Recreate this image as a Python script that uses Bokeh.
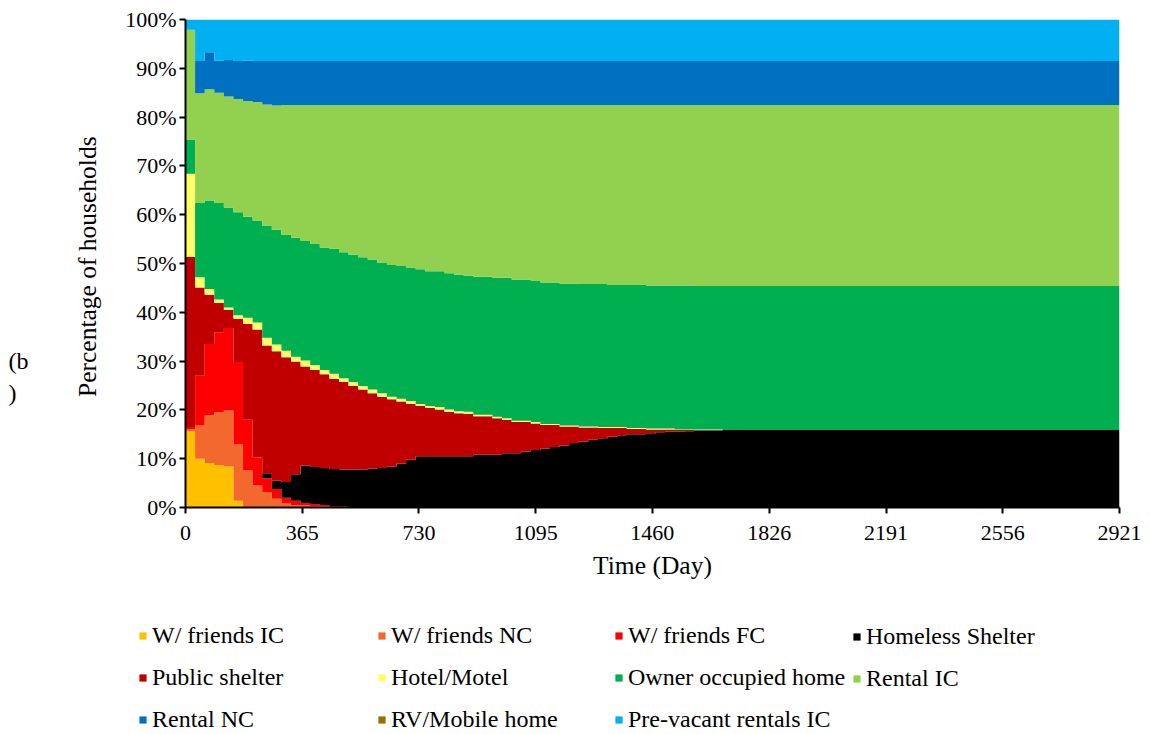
import numpy as np
from bokeh.plotting import figure
from bokeh.layouts import column, row
from bokeh.models import Range1d, FixedTicker, PrintfTickFormatter, Legend, LegendItem, Label
from bokeh.embed import file_html
from bokeh.resources import INLINE

# ---------------- data (percentage of households, one value per 30-day step) ----------------
month_index = list(range(57))
step_days = 30
x_end = 2921
x_ticks = [0, 365, 730, 1095, 1460, 1826, 2191, 2556, 2921]
y_ticks = [0, 10, 20, 30, 40, 50, 60, 70, 80, 90, 100]

friends_ic = [15.6, 10.0, 9.1, 8.7, 8.4, 1.4, 0, 0, 0, 0, 0, 0, 0, 0, 0, 0, 0, 0, 0, 0,
              0, 0, 0, 0, 0, 0, 0, 0, 0, 0, 0, 0, 0, 0, 0, 0, 0, 0, 0, 0,
              0, 0, 0, 0, 0, 0, 0, 0, 0, 0, 0, 0, 0, 0, 0, 0, 0]
friends_nc = [0.5, 6.8, 9.8, 10.8, 11.5, 11.5, 7.6, 4.5, 3.2, 1.8, 0.9, 0.5, 0.4, 0.3, 0.2, 0.1, 0.1, 0, 0, 0,
              0, 0, 0, 0, 0, 0, 0, 0, 0, 0, 0, 0, 0, 0, 0, 0, 0, 0, 0, 0,
              0, 0, 0, 0, 0, 0, 0, 0, 0, 0, 0, 0, 0, 0, 0, 0, 0]
friends_fc = [0.4, 10.2, 14.6, 16.4, 16.9, 16.9, 10.4, 5.8, 2.8, 2.0, 1.1, 0.9, 0.5, 0.4, 0.3, 0.2, 0.1, 0.1, 0, 0,
              0, 0, 0, 0, 0, 0, 0, 0, 0, 0, 0, 0, 0, 0, 0, 0, 0, 0, 0, 0,
              0, 0, 0, 0, 0, 0, 0, 0, 0, 0, 0, 0, 0, 0, 0, 0, 0]
homeless_shelter = [0, 0, 0, 0, 0, 0, 0, 0, 1.0, 1.7, 3.2, 5.4, 7.7, 7.6, 7.6, 7.6, 7.6, 7.7, 7.8, 8.0,
                    8.1, 8.4, 9.0, 9.8, 10.5, 10.5, 10.5, 10.5, 10.5, 10.5, 10.8, 10.8, 10.8, 11.1, 11.1, 11.5, 11.8, 12.1, 12.4, 12.7,
                    13.2, 13.5, 13.9, 14.2, 14.5, 14.8, 15.0, 15.0, 15.2, 15.4, 15.5, 15.5, 15.6, 15.8, 15.8, 15.8, 15.9]
public_shelter = [34.9, 18.1, 10.1, 6.0, 3.7, 8.9, 19.6, 26.2, 26.2, 26.5, 25.6, 23.1, 20.3, 19.9, 19.2, 18.5, 17.9, 17.1, 16.4, 15.4,
                  14.6, 13.8, 12.7, 11.4, 10.3, 9.9, 9.6, 9.1, 8.8, 8.7, 7.9, 7.9, 7.5, 6.9, 6.4, 6.0, 5.4, 4.8, 4.5, 3.9,
                  3.4, 2.9, 2.5, 2.1, 1.8, 1.5, 1.1, 1.1, 0.8, 0.6, 0.5, 0.4, 0.3, 0.1, 0.1, 0.1, 0.0]
hotel_motel = [17.0, 2.1, 1.2, 0.7, 0.5, 0.7, 1.3, 1.4, 1.6, 1.4, 1.3, 1.0, 1.2, 1.0, 0.9, 1.0, 0.8, 0.8, 0.7, 0.8,
               0.7, 0.5, 0.6, 0.6, 0.4, 0.4, 0.5, 0.5, 0.4, 0.4, 0.3, 0.3, 0.3, 0.3, 0.3, 0.3, 0.3, 0.2, 0.2, 0.2,
               0.2, 0.2, 0.2, 0.2, 0.2, 0.2, 0.2, 0.2, 0.2, 0.2, 0.2, 0.1, 0.1, 0.1, 0.1, 0.1, 0.0]
owner_occupied = [7.0, 15.2, 18.1, 19.8, 20.5, 21.1, 20.7, 20.9, 23.0, 23.5, 23.8, 24.4, 24.5, 24.8, 25.1, 25.6, 25.8, 26.1, 26.4, 26.6,
                  26.8, 27.0, 27.2, 27.4, 27.6, 27.6, 27.8, 27.9, 28.0, 27.9, 28.3, 28.3, 28.5, 28.8, 28.9, 28.9, 28.9, 29.0, 29.0, 29.1,
                  29.1, 29.2, 29.2, 29.3, 29.1, 29.1, 29.3, 29.3, 29.3, 29.3, 29.3, 29.5, 29.5, 29.4, 29.4, 29.4, 29.5]
rental_ic = [22.5, 22.5, 22.8, 22.6, 22.7, 23.2, 23.7, 24.3, 24.8, 25.5, 26.6, 27.2, 27.9, 28.5, 29.2, 29.5, 30.2, 30.7, 31.2, 31.7,
             32.3, 32.8, 33.0, 33.3, 33.7, 34.1, 34.1, 34.5, 34.8, 35.0, 35.2, 35.2, 35.4, 35.4, 35.8, 35.8, 36.1, 36.4, 36.4, 36.6,
             36.6, 36.7, 36.7, 36.7, 36.9, 36.9, 36.9, 36.9, 37.0, 37.0, 37.0, 37.0, 37.0, 37.1, 37.1, 37.1, 37.1]
rental_nc = [0.0, 6.6, 7.6, 6.6, 7.5, 7.8, 8.3, 8.4, 8.9, 9.1, 9.0, 9.0, 9.0, 9.0, 9.0, 9.0, 9.0, 9.0, 9.0, 9.0,
             9.0, 9.0, 9.0, 9.0, 9.0, 9.0, 9.0, 9.0, 9.0, 9.0, 9.0, 9.0, 9.0, 9.0, 9.0, 9.0, 9.0, 9.0, 9.0, 9.0,
             9.0, 9.0, 9.0, 9.0, 9.0, 9.0, 9.0, 9.0, 9.0, 9.0, 9.0, 9.0, 9.0, 9.0, 9.0, 9.0, 9.0]
rv_mobile = [0, 0, 0, 0, 0, 0, 0, 0, 0, 0, 0, 0, 0, 0, 0, 0, 0, 0, 0, 0,
             0, 0, 0, 0, 0, 0, 0, 0, 0, 0, 0, 0, 0, 0, 0, 0, 0, 0, 0, 0,
             0, 0, 0, 0, 0, 0, 0, 0, 0, 0, 0, 0, 0, 0, 0, 0, 0]
prevacant_ic = [2.1, 8.5, 6.7, 8.4, 8.3, 8.5, 8.4, 8.5, 8.5, 8.5, 8.5, 8.5, 8.5, 8.5, 8.5, 8.5, 8.5, 8.5, 8.5, 8.5,
                8.5, 8.5, 8.5, 8.5, 8.5, 8.5, 8.5, 8.5, 8.5, 8.5, 8.5, 8.5, 8.5, 8.5, 8.5, 8.5, 8.5, 8.5, 8.5, 8.5,
                8.5, 8.5, 8.5, 8.5, 8.5, 8.5, 8.5, 8.5, 8.5, 8.5, 8.5, 8.5, 8.5, 8.5, 8.5, 8.5, 8.5]

series_labels = ["W/ friends IC", "W/ friends NC", "W/ friends FC", "Homeless Shelter",
                 "Public shelter", "Hotel/Motel", "Owner occupied home", "Rental IC",
                 "Rental NC", "RV/Mobile home", "Pre-vacant rentals IC"]
series_values = [friends_ic, friends_nc, friends_fc, homeless_shelter, public_shelter, hotel_motel,
                 owner_occupied, rental_ic, rental_nc, rv_mobile, prevacant_ic]
series_colors = ["#FFC000", "#F3682C", "#FF0000", "#000000", "#C00000", "#FFFF66",
                 "#00B050", "#92D050", "#0070C0", "#987000", "#00B0F0"]

FONT = "Liberation Serif"
TOP_H = 587
TAG_W = 40


def blank(fig):
    fig.xgrid.visible = False
    fig.ygrid.visible = False
    fig.outline_line_color = None
    fig.background_fill_color = "white"
    fig.border_fill_color = "white"


# ---------------- main chart ----------------
p = figure(width=1108, height=TOP_H, x_range=Range1d(0, x_end), y_range=Range1d(0, 100),
           output_backend="svg", toolbar_location=None,
           min_border_left=145, min_border_right=29, min_border_top=19, min_border_bottom=80)
blank(p)

day_start = [m * step_days for m in month_index]
edges = day_start + [x_end]
xs = []
for i in range(len(day_start)):
    xs += [edges[i], edges[i + 1]]

bottom = np.zeros(len(day_start))
for vals, color in zip(series_values, series_colors):
    v = np.array(vals, dtype=float)
    top = bottom + v
    p.varea(x=xs, y1=np.repeat(bottom, 2), y2=np.repeat(top, 2), fill_color=color, fill_alpha=1.0)
    bottom = top

for ax in (p.xaxis[0], p.yaxis[0]):
    ax.axis_line_color = "black"
    ax.axis_line_width = 2
    ax.major_tick_line_color = "black"
    ax.major_tick_line_width = 2
    ax.major_tick_out = 6
    ax.major_tick_in = 0
    ax.minor_tick_line_color = None
    ax.major_label_text_font = FONT
    ax.major_label_text_font_size = "22px"
    ax.major_label_text_color = "black"
    ax.axis_label_text_font = FONT
    ax.axis_label_text_font_size = "25.5px"
    ax.axis_label_text_font_style = "normal"
    ax.axis_label_text_color = "black"

p.xaxis.ticker = FixedTicker(ticks=x_ticks)
p.xaxis.major_label_standoff = 12
p.xaxis.axis_label = "Time (Day)"
p.xaxis.axis_label_standoff = 8

p.yaxis.ticker = FixedTicker(ticks=y_ticks)
p.yaxis.formatter = PrintfTickFormatter(format="%d%%")
p.yaxis.major_label_standoff = 3
p.yaxis.axis_label = "Percentage  of households"
p.yaxis.axis_label_standoff = 20

# ---------------- panel tag "(b)" at the far left (frame aligned with the chart's frame) ----------------
p_tag = figure(width=TAG_W, height=TOP_H, x_range=Range1d(0, 1), y_range=Range1d(0, 1),
               output_backend="svg", toolbar_location=None, min_border=0,
               x_axis_location=None, y_axis_location=None)
blank(p_tag)
for txt, yy in (("(b", 507 - 360), (")", 507 - 392)):
    p_tag.add_layout(Label(x=8, y=yy, x_units="screen", y_units="screen", text=txt,
                           text_font=FONT, text_font_size="24px", text_baseline="middle",
                           text_align="left", text_color="black"))

# ---------------- legend panel ----------------
LEG_H = 734 - TOP_H
p_leg = figure(width=1148, height=LEG_H, x_range=Range1d(0, 1), y_range=Range1d(0, 1),
               output_backend="svg", toolbar_location=None, min_border=0,
               x_axis_location=None, y_axis_location=None)
blank(p_leg)
# swatch renderers for the legend (kept outside the visible range of this panel)
leg_renderers = [p_leg.quad(left=[2], right=[3], bottom=[2], top=[3], fill_color=c, line_color=None)
                 for c in series_colors]

col_items = [[0, 4, 8], [1, 5, 9], [2, 6, 10], [3, 7]]
col_x = [138, 377, 614, 852]
ITEM_H = 26
SPACING = 15
ROW1_CENTER = 638
for cols, cx in zip(col_items, col_x):
    items = [LegendItem(label=series_labels[i], renderers=[leg_renderers[i]]) for i in cols]
    n = len(cols)
    total = n * ITEM_H + (n - 1) * SPACING
    top_px = ROW1_CENTER - ITEM_H / 2 - TOP_H
    vy = int(round(LEG_H - (top_px + total)))
    leg = Legend(items=items, location=(cx, vy), orientation="vertical",
                 glyph_width=9, glyph_height=9, label_standoff=5, label_height=ITEM_H,
                 spacing=SPACING, padding=0, margin=0, border_line_color=None,
                 background_fill_alpha=0, label_text_font=FONT,
                 label_text_font_size="24px", label_text_color="black")
    p_leg.add_layout(leg, "center")

layout = column(row(p_tag, p), p_leg)
open("out.html", "w").write(file_html(layout, INLINE))
